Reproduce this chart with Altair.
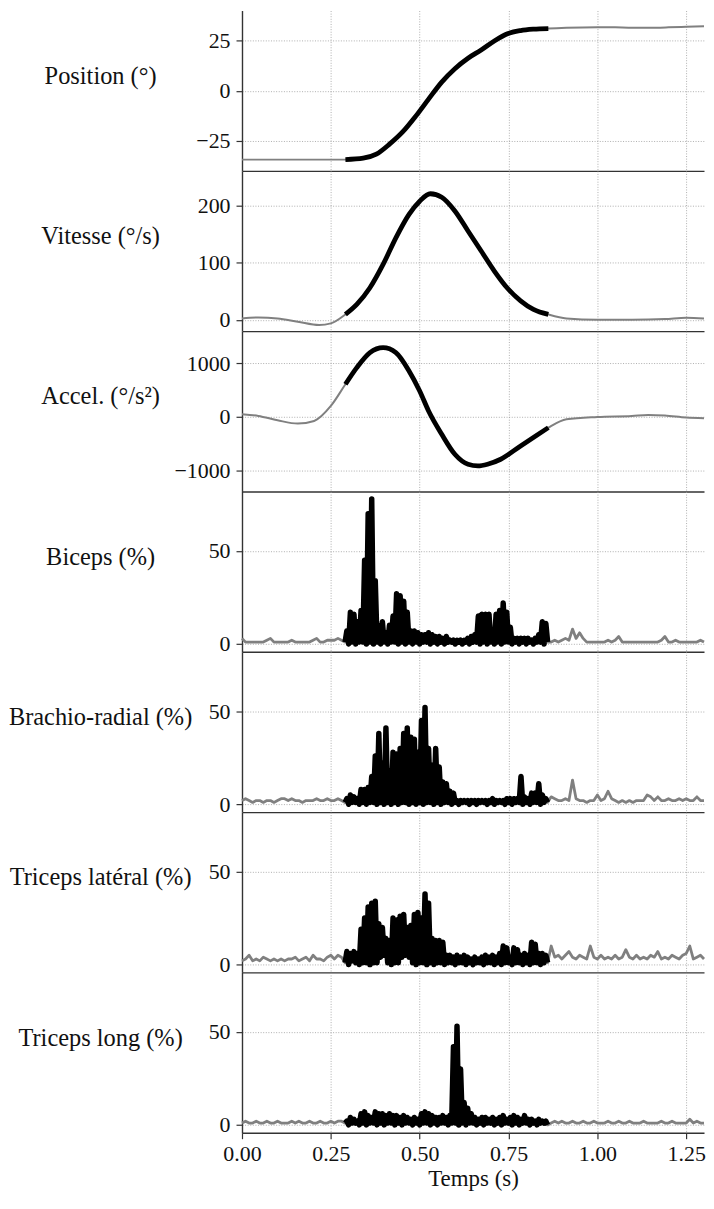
import altair as alt
import numpy as np
import pandas as pd

# ---------------- data ----------------
# Kinematics (time in s)
pos_t = [0.0, 0.05, 0.1, 0.15, 0.2, 0.25, 0.291, 0.341, 0.378, 0.415, 0.452, 0.489, 0.525,
         0.562, 0.599, 0.636, 0.673, 0.710, 0.747, 0.784, 0.820, 0.862, 0.913, 1.0, 1.05,
         1.1, 1.143, 1.2, 1.25, 1.3]
pos_v = [-34.4, -34.4, -34.4, -34.4, -34.4, -34.4, -34.4, -33.7, -31.7, -26.7, -20.6, -12.7, -4.2,
         4.3, 11.0, 16.2, 20.3, 24.8, 28.4, 30.0, 30.7, 31.0, 31.4, 31.7, 31.6,
         31.4, 31.4, 31.6, 31.9, 32.2]

vel_t = [0.0, 0.046, 0.1, 0.157, 0.217, 0.25, 0.291, 0.323, 0.36, 0.397, 0.433, 0.47, 0.5, 0.53,
         0.562, 0.599, 0.636, 0.673, 0.71, 0.747, 0.784, 0.82, 0.862, 0.913, 1.0, 1.097, 1.19,
         1.25, 1.3]
vel_v = [2.3, 4, 2.3, -3.5, -9.3, -6.4, 9.3, 26.7, 55.8, 96.5, 143, 184, 207, 220,
         214, 190, 155, 120, 85, 55, 33, 18, 9.3, 2.3, 0, 0, 1.2,
         3.5, 2.3]

acc_t = [0.0, 0.046, 0.1, 0.157, 0.203, 0.25, 0.291, 0.323, 0.36, 0.397, 0.433, 0.47, 0.5,
         0.525, 0.562, 0.599, 0.636, 0.664, 0.691, 0.728, 0.784, 0.82, 0.862, 0.913, 1.0,
         1.097, 1.143, 1.19, 1.25, 1.3]
acc_v = [50, 19, -62, -124, -75, 205, 609, 919, 1199, 1292, 1199, 857, 484,
         112, -323, -696, -882, -913, -882, -789, -540, -385, -199, -43, 0,
         19, 37, 25, -12, -25]

# EMG sampling instants
t_pre = [round(x, 3) for x in np.arange(0.0, 0.285, 0.01)]      # 0.00 .. 0.28
t_lo = [round(x, 3) for x in np.arange(0.29, 0.8625, 0.01)]     # 0.29 .. 0.86
t_hi = [round(x, 3) for x in np.arange(0.295, 0.8575, 0.01)]    # 0.295 .. 0.855
t_post = [round(x, 3) for x in np.arange(0.87, 1.3025, 0.01)]   # 0.87 .. 1.30

# Biceps (%)
bic_pre = [3, 1, 1, 1, 1, 1, 1, 2, 3, 1, 1, 1, 1, 1, 2, 1, 1, 1, 1, 1, 2, 3, 1, 1, 2, 2, 2, 3, 2]
bic_lo = [1, 0, 1, 0, 1, 1, 0, 1, 0, 1, 0, 1, 0, 1, 1, 0, 1, 0, 1, 0, 1, 0, 1, 1, 0, 1, 0, 1, 0,
          1, 1, 0, 1, 0, 1, 0, 1, 1, 0, 1, 0, 1, 0, 1, 0, 1, 1, 0, 1, 0, 1, 0, 1, 0, 1, 1, 0, 1]
bic_hi = [7, 17, 16, 12, 18, 45, 70, 78, 34, 10, 12, 6, 10, 15, 27, 26, 23, 17, 7, 7,
          6, 5, 5, 6, 5, 4, 4, 3, 4, 2, 2, 2, 2, 2, 3, 4, 5, 15, 16, 16,
          16, 6, 16, 18, 22, 17, 9, 3, 3, 3, 3, 3, 2, 3, 5, 12, 11]
bic_post = [1, 2, 1, 2, 3, 2, 8, 3, 6, 3, 1, 1, 1, 1, 1, 1, 2, 1, 2, 4, 1, 1, 1, 1, 1, 1,
            1, 1, 1, 1, 1, 2, 4, 1, 1, 2, 1, 1, 1, 1, 1, 1, 2, 1]

# Brachio-radial (%)
bra_pre = [2, 3, 2, 1, 2, 2, 1, 2, 2, 1, 2, 3, 3, 2, 3, 2, 2, 1, 2, 2, 2, 3, 2, 2, 3, 2, 2, 3, 2]
bra_lo = [1, 0, 1, 1, 0, 1, 0, 1, 1, 0, 1, 0, 1, 0, 1, 0, 1, 1, 0, 1, 0, 1, 0, 1, 1, 0, 1, 0, 1,
          1, 0, 1, 0, 1, 1, 0, 1, 0, 1, 1, 0, 1, 0, 1, 1, 0, 1, 0, 1, 1, 0, 1, 0, 1, 1, 0, 1, 1]
bra_hi = [3, 5, 4, 3, 8, 8, 9, 15, 26, 38, 22, 41, 18, 28, 27, 30, 38, 41, 36, 35,
          28, 45, 52, 30, 21, 30, 20, 12, 11, 7, 6, 2, 2, 2, 2, 2, 2, 2, 2, 2,
          2, 3, 2, 2, 2, 3, 3, 3, 3, 15, 4, 3, 6, 6, 11, 5, 3]
bra_post = [4, 3, 2, 2, 3, 2, 13, 3, 2, 2, 1, 2, 2, 5, 2, 3, 7, 3, 2, 1, 2, 1, 2, 1, 2, 2,
            2, 5, 4, 2, 4, 2, 2, 3, 2, 2, 3, 2, 3, 2, 2, 4, 2, 2]

# Triceps latéral (%)
trl_pre = [2, 3, 5, 2, 3, 2, 4, 3, 2, 3, 2, 3, 2, 3, 3, 4, 2, 3, 4, 2, 5, 3, 3, 2, 4, 5, 3, 5, 4]
trl_lo = [1, 0, 2, 1, 0, 1, 1, 0, 1, 1, 4, 5, 1, 0, 1, 1, 4, 5, 4, 1, 0, 1, 1, 0, 1, 0, 1, 1, 0,
          1, 1, 0, 1, 1, 0, 1, 0, 1, 1, 0, 1, 1, 0, 1, 0, 1, 1, 0, 1, 1, 0, 1, 0, 1, 1, 0, 1, 1]
trl_hi = [7, 6, 7, 6, 19, 25, 31, 33, 34, 22, 20, 14, 13, 25, 24, 26, 27, 20, 21, 27,
          28, 25, 38, 33, 14, 13, 13, 12, 5, 5, 4, 5, 4, 5, 4, 3, 4, 3, 4, 5,
          4, 5, 4, 6, 10, 9, 4, 9, 8, 5, 6, 5, 12, 11, 6, 6, 5]
trl_post = [10, 4, 5, 3, 5, 7, 4, 3, 5, 4, 3, 10, 4, 3, 5, 3, 4, 3, 5, 3, 4, 8, 4, 3, 5, 3,
            4, 3, 5, 4, 7, 3, 4, 3, 5, 4, 3, 5, 6, 10, 3, 4, 5, 3]

# Triceps long (%)
tlo_pre = [1, 2, 1, 1, 2, 1, 1, 2, 1, 1, 2, 1, 1, 1, 2, 1, 2, 1, 1, 2, 1, 1, 2, 1, 1, 2, 1, 2, 2]
tlo_lo = [1, 0, 1, 1, 0, 1, 0, 1, 1, 0, 1, 0, 1, 1, 0, 1, 0, 1, 1, 0, 1, 0, 1, 1, 0, 1, 0, 1, 1,
          0, 1, 1, 0, 1, 0, 1, 1, 0, 1, 0, 1, 1, 0, 1, 0, 1, 1, 0, 1, 0, 1, 1, 0, 1, 0, 1, 1, 0]
tlo_hi = [2, 4, 3, 2, 6, 7, 5, 4, 7, 6, 6, 5, 6, 5, 5, 4, 5, 4, 3, 4,
          3, 6, 7, 6, 5, 4, 4, 5, 4, 5, 42, 53, 30, 12, 9, 6, 4, 3, 4, 4,
          3, 4, 3, 4, 5, 3, 4, 5, 4, 3, 5, 3, 3, 2, 3, 2, 2]
tlo_post = [1, 2, 1, 2, 1, 1, 2, 1, 1, 2, 1, 1, 2, 1, 1, 1, 2, 1, 1, 2, 1, 1, 2, 1, 1, 1,
            2, 1, 1, 1, 1, 2, 1, 1, 2, 1, 1, 1, 1, 3, 1, 2, 1, 1]

x_ticks = [0.0, 0.25, 0.5, 0.75, 1.0, 1.25]

# ---------------- style ----------------
FONT = "Liberation Serif"
LFS = 22      # tick labels
TFS = 24.5    # panel labels
XTFS = 23     # x-axis title
W = 464
H = 161
T_START, T_END = 0.289, 0.8625
LABEL_X = -142
LABEL_Y = 73.5


def x_enc(bottom):
    if bottom:
        ax = alt.Axis(values=x_ticks, format=".2f", title="Temps (s)", grid=True,
                      ticks=True, tickSize=6, labelPadding=5, labelFlush=False,
                      labelOverlap=False, titlePadding=3, titleFontSize=XTFS)
    else:
        ax = alt.Axis(values=x_ticks, labels=False, ticks=False, grid=True, title=None)
    return alt.X("t:Q", scale=alt.Scale(domain=[0, 1.3], nice=False, zero=False), axis=ax)


def y_enc(domain, ticks):
    ax = alt.Axis(values=ticks, format="d", title=None, grid=True, tickSize=6, labelPadding=6)
    return alt.Y("v:Q", scale=alt.Scale(domain=domain, nice=False, zero=False), axis=ax)


def panel(df, title, domain, ticks, gray_w, black_w, interp, bottom=False):
    x = x_enc(bottom)
    y = y_enc(domain, ticks)
    gray = alt.Chart(df).mark_line(color="#808080", strokeWidth=gray_w, interpolate=interp,
                                   strokeJoin="round").encode(x=x, y=y, order="t:Q")
    black = alt.Chart(df).transform_filter(
        (alt.datum.t >= T_START) & (alt.datum.t <= T_END)
    ).mark_line(color="black", strokeWidth=black_w, interpolate=interp,
                strokeJoin="round").encode(x=x, y=y, order="t:Q")
    label = alt.Chart(pd.DataFrame({"label": [title]})).mark_text(
        font=FONT, fontSize=TFS, align="center", baseline="alphabetic", color="#111111"
    ).encode(text="label:N", x=alt.value(LABEL_X), y=alt.value(LABEL_Y))
    return alt.layer(gray, black, label).properties(width=W, height=H)


def emg_df(pre, lo, hi, post):
    assert len(pre) == len(t_pre) and len(post) == len(t_post)
    assert len(lo) == len(t_lo) and len(hi) == len(t_hi)
    t = list(t_pre) + list(t_lo) + list(t_hi) + list(t_post)
    v = list(pre) + list(lo) + list(hi) + list(post)
    return pd.DataFrame({"t": t, "v": v}).sort_values("t").reset_index(drop=True)


EMG_DOM = [-4.2, 82]
EMG_TICKS = [0, 50]

p1 = panel(pd.DataFrame({"t": pos_t, "v": pos_v}), "Position (°)", [-40, 40], [-25, 0, 25],
           2, 4.8, "monotone")
p2 = panel(pd.DataFrame({"t": vel_t, "v": vel_v}), "Vitesse (°/s)", [-20, 260], [0, 100, 200],
           2, 4.8, "monotone")
p3 = panel(pd.DataFrame({"t": acc_t, "v": acc_v}), "Accel. (°/s²)", [-1390, 1600],
           [-1000, 0, 1000], 2, 4.8, "monotone")
p4 = panel(emg_df(bic_pre, bic_lo, bic_hi, bic_post), "Biceps (%)", EMG_DOM, EMG_TICKS,
           2.8, 5.5, "linear")
p5 = panel(emg_df(bra_pre, bra_lo, bra_hi, bra_post), "Brachio-radial (%)", EMG_DOM, EMG_TICKS,
           2.8, 5.5, "linear")
p6 = panel(emg_df(trl_pre, trl_lo, trl_hi, trl_post), "Triceps latéral (%)", EMG_DOM, EMG_TICKS,
           2.8, 5.5, "linear")
p7 = panel(emg_df(tlo_pre, tlo_lo, tlo_hi, tlo_post), "Triceps long (%)", EMG_DOM, EMG_TICKS,
           2.8, 5.5, "linear", bottom=True)

chart = alt.vconcat(p1, p2, p3, p4, p5, p6, p7, spacing=0, bounds="flush").properties(
    padding=0
).configure_view(stroke=None).configure_axis(
    gridColor="#9a9a9a", gridDash=[1, 1.6], gridWidth=0.8,
    domainColor="#333333", domainWidth=1.4, tickColor="#333333", tickWidth=1.2,
    labelFont=FONT, labelFontSize=LFS, labelColor="#111111",
    titleFont=FONT, titleFontSize=TFS, titleColor="#111111", titleFontWeight="normal",
).configure_concat(spacing=0)

chart.save("out.html", embed_options={"renderer": "svg", "actions": False})
